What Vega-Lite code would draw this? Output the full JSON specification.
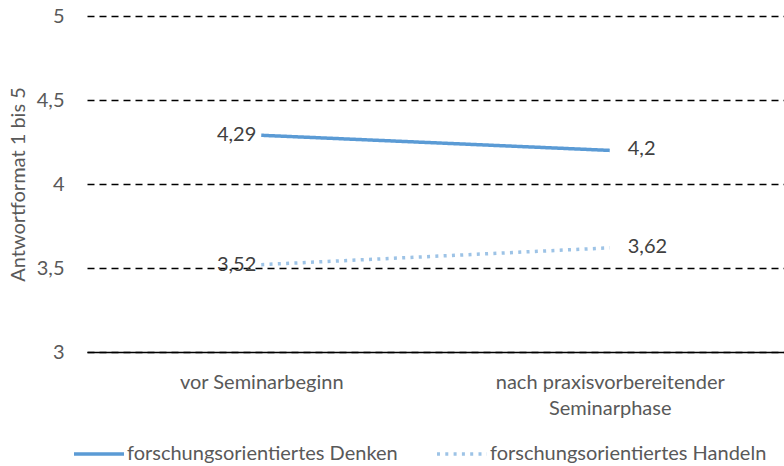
{
  "$schema": "https://vega.github.io/schema/vega-lite/v6.json",
  "width": 697,
  "height": 336,
  "autosize": {"type": "none"},
  "padding": {"left": 87, "top": 16, "right": 0, "bottom": 114},
  "background": "white",
  "data": {
    "values": [
      {"phase": "vor Seminarbeginn", "series": "forschungsorientiertes Denken", "value": 4.29},
      {"phase": "nach praxisvorbereitender Seminarphase", "series": "forschungsorientiertes Denken", "value": 4.2},
      {"phase": "vor Seminarbeginn", "series": "forschungsorientiertes Handeln", "value": 3.52},
      {"phase": "nach praxisvorbereitender Seminarphase", "series": "forschungsorientiertes Handeln", "value": 3.62}
    ]
  },
  "encoding": {
    "x": {
      "field": "phase", "type": "nominal", "sort": null,
      "scale": {"type": "point", "padding": 0.5},
      "axis": {
        "title": null, "labelAngle": 0, "ticks": false, "grid": false,
        "domain": true, "domainColor": "#000000", "domainWidth": 1.5,
        "labelFont": "Lato", "labelFontSize": 20, "labelColor": "#595959", "labelLimit": 0,
        "labelPadding": 20, "labelLineHeight": 26, "labelBaseline": "top",
        "labelExpr": "datum.value == 'nach praxisvorbereitender Seminarphase' ? ['nach praxisvorbereitender', 'Seminarphase'] : datum.label"
      }
    },
    "y": {
      "field": "value", "type": "quantitative",
      "scale": {"domain": [3, 5], "nice": false, "zero": false},
      "axis": {
        "title": "Antwortformat 1 bis 5", "values": [3, 3.5, 4, 4.5, 5], "format": ".1~f",
        "domain": false, "ticks": false, "grid": true,
        "gridColor": "#000000", "gridWidth": 1.5, "gridDash": [7, 5], "gridOpacity": 1,
        "labelFont": "Lato", "labelFontSize": 20, "labelColor": "#595959", "labelPadding": 23,
        "titleFont": "Lato", "titleFontSize": 20, "titleFontWeight": "normal", "titleColor": "#595959", "titlePadding": 8
      }
    }
  },
  "layer": [
    {
      "mark": {"type": "line", "strokeWidth": 3.5},
      "encoding": {
        "color": {
          "field": "series", "type": "nominal",
          "scale": {"domain": ["forschungsorientiertes Denken", "forschungsorientiertes Handeln"], "range": ["#5B9BD5", "#9DC3E6"]},
          "legend": {
            "title": null, "orient": "none", "direction": "horizontal", "legendX": -15, "legendY": 411,
            "symbolType": "stroke", "symbolSize": 2500, "symbolStrokeWidth": 3.5, "labelLimit": 0,
            "labelFont": "Lato", "labelFontSize": 20, "labelColor": "#595959", "labelOffset": 1, "columnPadding": 32
          }
        },
        "strokeDash": {
          "field": "series", "type": "nominal",
          "scale": {"domain": ["forschungsorientiertes Denken", "forschungsorientiertes Handeln"], "range": [[1, 0], [3, 5.3]]},
          "legend": {
            "title": null, "orient": "none", "direction": "horizontal", "legendX": -15, "legendY": 411,
            "symbolType": "stroke", "symbolSize": 2500, "symbolStrokeWidth": 3.5, "labelLimit": 0,
            "labelFont": "Lato", "labelFontSize": 20, "labelColor": "#595959", "labelOffset": 1, "columnPadding": 32
          }
        }
      }
    },
    {
      "transform": [{"filter": "datum.phase == 'vor Seminarbeginn'"}],
      "mark": {"type": "text", "align": "right", "baseline": "middle", "dx": -5, "font": "Lato", "fontSize": 20, "color": "#404040"},
      "encoding": {"text": {"field": "value", "type": "quantitative", "format": ".2~f"}}
    },
    {
      "transform": [{"filter": "datum.phase != 'vor Seminarbeginn'"}],
      "mark": {"type": "text", "align": "left", "baseline": "middle", "dx": 18, "dy": -1, "font": "Lato", "fontSize": 20, "color": "#404040"},
      "encoding": {"text": {"field": "value", "type": "quantitative", "format": ".2~f"}}
    }
  ],
  "config": {
    "view": {"stroke": null},
    "locale": {"number": {"decimal": ",", "thousands": ".", "grouping": [3], "currency": ["", " €"]}}
  }
}
